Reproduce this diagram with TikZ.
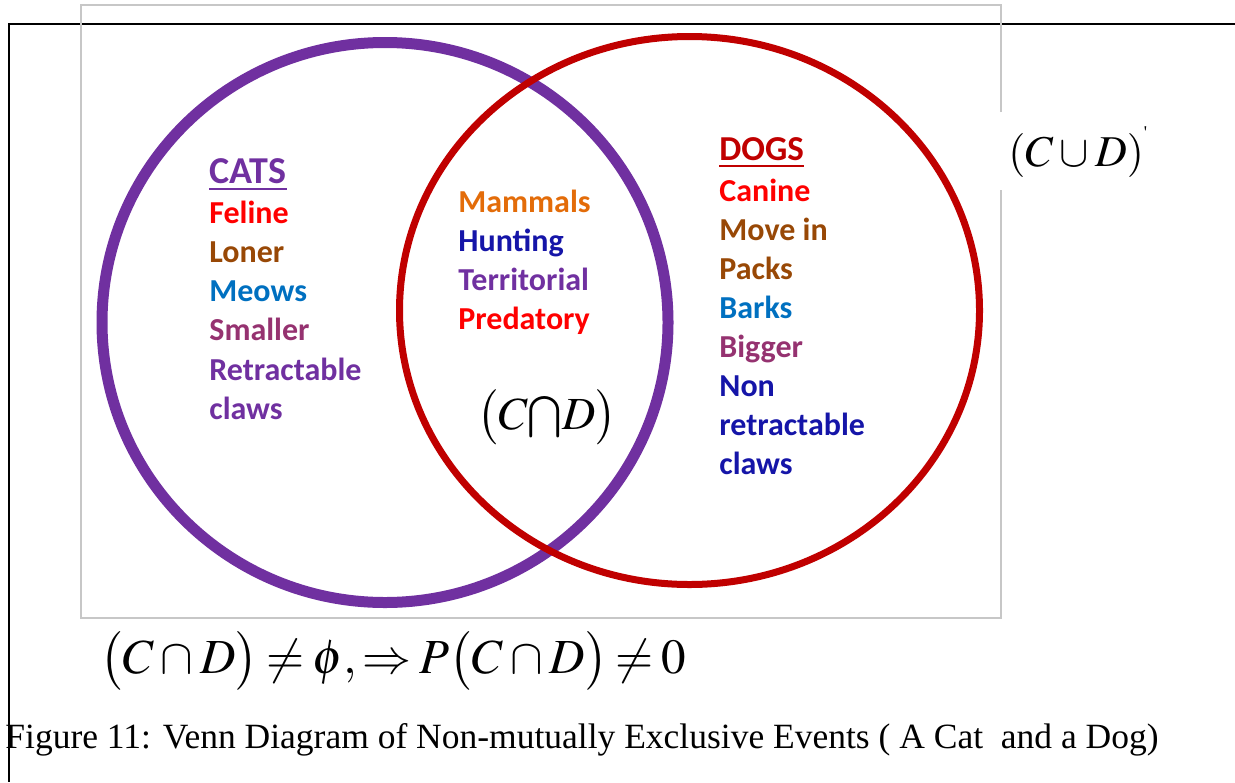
\documentclass[tikz,border=0pt]{standalone}
\usepackage{amsmath}
\usepackage{mathptmx}
\usepackage{fontspec}
\setmainfont{Liberation Serif}
\newfontfamily\calibri{Carlito}
\usetikzlibrary{calc}
\definecolor{catpurple}{HTML}{7030A0}
\definecolor{dogred}{HTML}{C00000}
\definecolor{brightred}{HTML}{FF0000}
\definecolor{traitbrown}{HTML}{984806}
\definecolor{traitblue}{HTML}{0070C0}
\definecolor{traitplum}{HTML}{953270}
\definecolor{traitnavy}{HTML}{1515A8}
\definecolor{traitorange}{HTML}{E36C09}

\begin{document}
\begin{tikzpicture}[x=0.5pt, y=-0.5pt,
    trait/.style={anchor=base west, inner sep=0pt, font=\calibri\bfseries\fontsize{16}{19}\selectfont},
    formula/.style={anchor=base west, inner sep=0pt}]
    \useasboundingbox (0,0) rectangle (1235,782);
    % page frame and sample space
    \draw[line width=1pt] (1235,24) -- (9,24) -- (9,782);
    \draw[black!22, line width=1pt] (1001,112) -- (1001,5) -- (81,5) -- (81,618) -- (1001,618) -- (1001,190);
    % the two events
    \draw[catpurple, line width=5.5pt] (385,322.5) ellipse (283 and 280);
    \draw[dogred, line width=3.5pt] (689.5,310.5) ellipse (290 and 274);
    % cats only
    \node[trait, font=\calibri\bfseries\fontsize{19}{23}\selectfont, text=catpurple] (cats) at (209,183) {CATS};
    \draw[catpurple, line width=1.2pt] ($(cats.base west)+(0,6)$) -- ($(cats.base east)+(0,6)$);
    \foreach \word/\col [count=\i] in {Feline/brightred, Loner/traitbrown, Meows/traitblue,
        Smaller/traitplum, Retractable/catpurple, claws/catpurple}
        \node[trait, text=\col] (cat\i) at (209,184+39.2*\i) {\word};
    % both
    \foreach \word/\col [count=\i] in {Mammals/traitorange, Hunting/traitnavy,
        Territorial/catpurple, Predatory/brightred}
        \node[trait, text=\col] (both\i) at (458,173+39*\i) {\word};
    \node[formula, font=\fontsize{23}{27}\selectfont] (meet) at (477,429) {$\bigl(C{\bigcap}D\bigr)$};
    % dogs only
    \node[trait, font=\calibri\bfseries\fontsize{17.5}{21}\selectfont, text=dogred] (dogs) at (719,160) {DOGS};
    \draw[dogred, line width=1.2pt] ($(dogs.base west)+(0,6)$) -- ($(dogs.base east)+(0,6)$);
    \foreach \word/\col [count=\i] in {Canine/brightred, Move in/traitbrown, Packs/traitbrown,
        Barks/traitblue, Bigger/traitplum, Non/traitnavy, retractable/traitnavy, claws/traitnavy}
        \node[trait, text=\col] (dog\i) at (719,162+39*\i) {\word};
    % complement
    \node[formula, font=\fontsize{22}{26}\selectfont] (union) at (1008,166)
        {$\left(C\cup D\right)$\raisebox{0.62em}{\fontsize{9}{9}\selectfont\textquotesingle}};
    % statement and caption
    \node[formula, font=\fontsize{24.5}{29}\selectfont] (rule) at (100,673)
        {\thickmuskip=3mu$\bigl(C\cap D\bigr)\neq\phi,\Rightarrow P\bigl(C\cap D\bigr)\neq 0$};
    \node[formula, font=\fontsize{17.75}{21}\selectfont] (caption) at (5,748)
        {Figure 11: Venn Diagram of Non-mutually Exclusive Events ( A Cat\ \ and a Dog)};
\end{tikzpicture}
\end{document}
